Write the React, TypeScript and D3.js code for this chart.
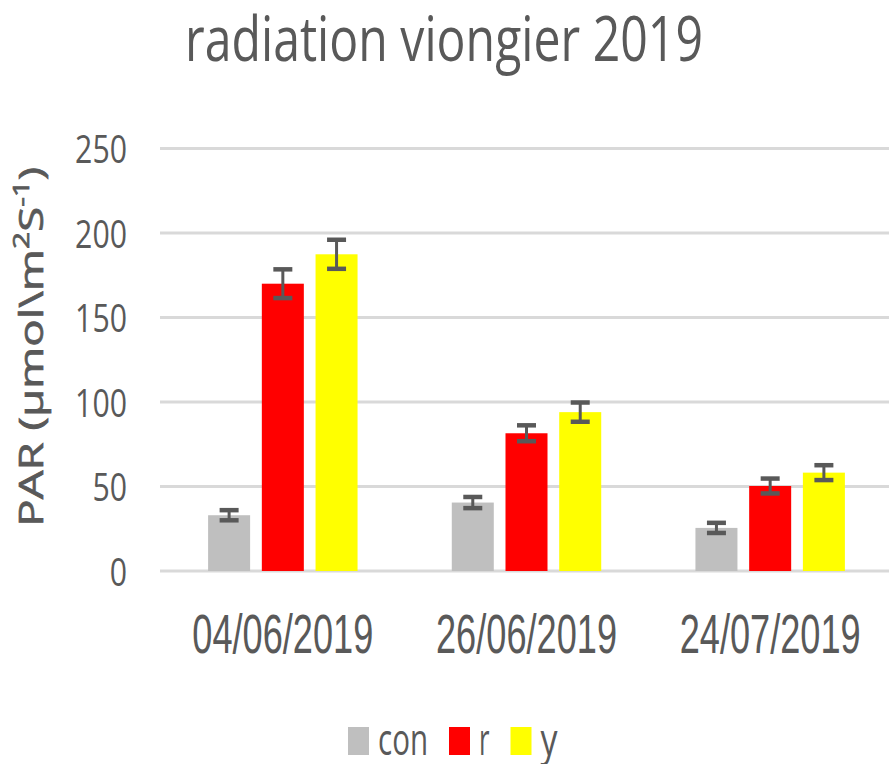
import React from "react";
import * as d3 from "d3";

const categories = ["04/06/2019", "26/06/2019", "24/07/2019"];
const seriesNames = ["con", "r", "y"];
const conValues = [33, 40.5, 25.5];
const conErr = [3, 3.3, 3];
const rValues = [170, 81.5, 50.3];
const rErr = [8.5, 4.7, 4.4];
const yValues = [187.4, 94, 58.2];
const yErr = [8.6, 5.7, 4.4];
const yTicks = [0, 50, 100, 150, 200, 250];
const colors = ["#bfbfbf", "#ff0000", "#ffff00"];

const W = 889;
const H = 764;
const TEXT = "#595959";

export default function App() {
  const values = [conValues, rValues, yValues];
  const errs = [conErr, rErr, yErr];

  const y = d3.scaleLinear().domain([0, 250]).range([571, 148.5]);
  const x0 = d3.scaleBand<string>().domain(categories).range([161, 892]).padding(0);
  const x1 = d3
    .scaleBand<string>()
    .domain(seriesNames)
    .range([0, x0.bandwidth()])
    .paddingInner(0.218)
    .paddingOuter(0.877);

  const legendWidths = [50, 10.5, 17];
  let cursor = 348;
  const legendItems = seriesNames.map((s, i) => {
    const sq = cursor;
    const tx = sq + 30;
    cursor = tx + legendWidths[i] + 21;
    return { s, sq, tx, w: legendWidths[i], c: colors[i] };
  });

  return (
    <svg
      width={W}
      height={H}
      style={{ position: "absolute", left: 0, top: 0, background: "#fff" }}
    >
      <text
        x={185}
        y={61}
        fontFamily="'Open Sans', sans-serif"
        fontSize={63}
        fill={TEXT}
        textLength={518}
        lengthAdjust="spacingAndGlyphs"
      >
        radiation viongier 2019
      </text>

      {yTicks.map((t) => (
        <g key={t}>
          <line x1={160} x2={W} y1={y(t)} y2={y(t)} stroke="#d9d9d9" strokeWidth={3} />
          <text
            x={127}
            y={y(t) + 14.5}
            textAnchor="end"
            fontFamily="'Open Sans', sans-serif"
            fontSize={39}
            fill={TEXT}
            textLength={17.3 * String(t).length}
            lengthAdjust="spacingAndGlyphs"
          >
            {t}
          </text>
        </g>
      ))}

      {categories.map((c, ci) => (
        <g key={c} transform={`translate(${x0(c)},0)`}>
          {seriesNames.map((s, si) => {
            const v = values[si][ci];
            const e = errs[si][ci];
            const bx = x1(s)!;
            const bw = x1.bandwidth();
            const cx = bx + bw / 2;
            return (
              <g key={s}>
                <rect x={bx} y={y(v)} width={bw} height={y(0) - y(v)} fill={colors[si]} />
                <line x1={cx} x2={cx} y1={y(v + e)} y2={y(v - e)} stroke={TEXT} strokeWidth={3} />
                <line x1={cx - 9.5} x2={cx + 9.5} y1={y(v + e)} y2={y(v + e)} stroke={TEXT} strokeWidth={4.5} />
                <line x1={cx - 9.5} x2={cx + 9.5} y1={y(v - e)} y2={y(v - e)} stroke={TEXT} strokeWidth={4.5} />
              </g>
            );
          })}
          <text
            x={x0.bandwidth() / 2}
            y={653}
            textAnchor="middle"
            fontFamily="'Liberation Sans', Arial, sans-serif"
            fontSize={56}
            fill={TEXT}
            textLength={181}
            lengthAdjust="spacingAndGlyphs"
          >
            {c}
          </text>
        </g>
      ))}

      <text
        transform="translate(43,346.7) rotate(-90)"
        textAnchor="middle"
        fontFamily="'Open Sans', sans-serif"
        fontSize={32}
        fill={TEXT}
        stroke={TEXT}
        strokeWidth={0.7}
        textLength={360}
        lengthAdjust="spacingAndGlyphs"
      >
        PAR (µmol\m
        <tspan fontSize={21} baselineShift="super">2</tspan>
        S<tspan fontSize={21} baselineShift="super">-1</tspan>)
      </text>

      {legendItems.map((it) => (
        <g key={it.s}>
          <rect x={it.sq} y={727} width={21} height={28} fill={it.c} />
          <text
            x={it.tx}
            y={755}
            fontFamily="'Open Sans', sans-serif"
            fontSize={43}
            fill={TEXT}
            textLength={it.w}
            lengthAdjust="spacingAndGlyphs"
          >
            {it.s}
          </text>
        </g>
      ))}
    </svg>
  );
}
